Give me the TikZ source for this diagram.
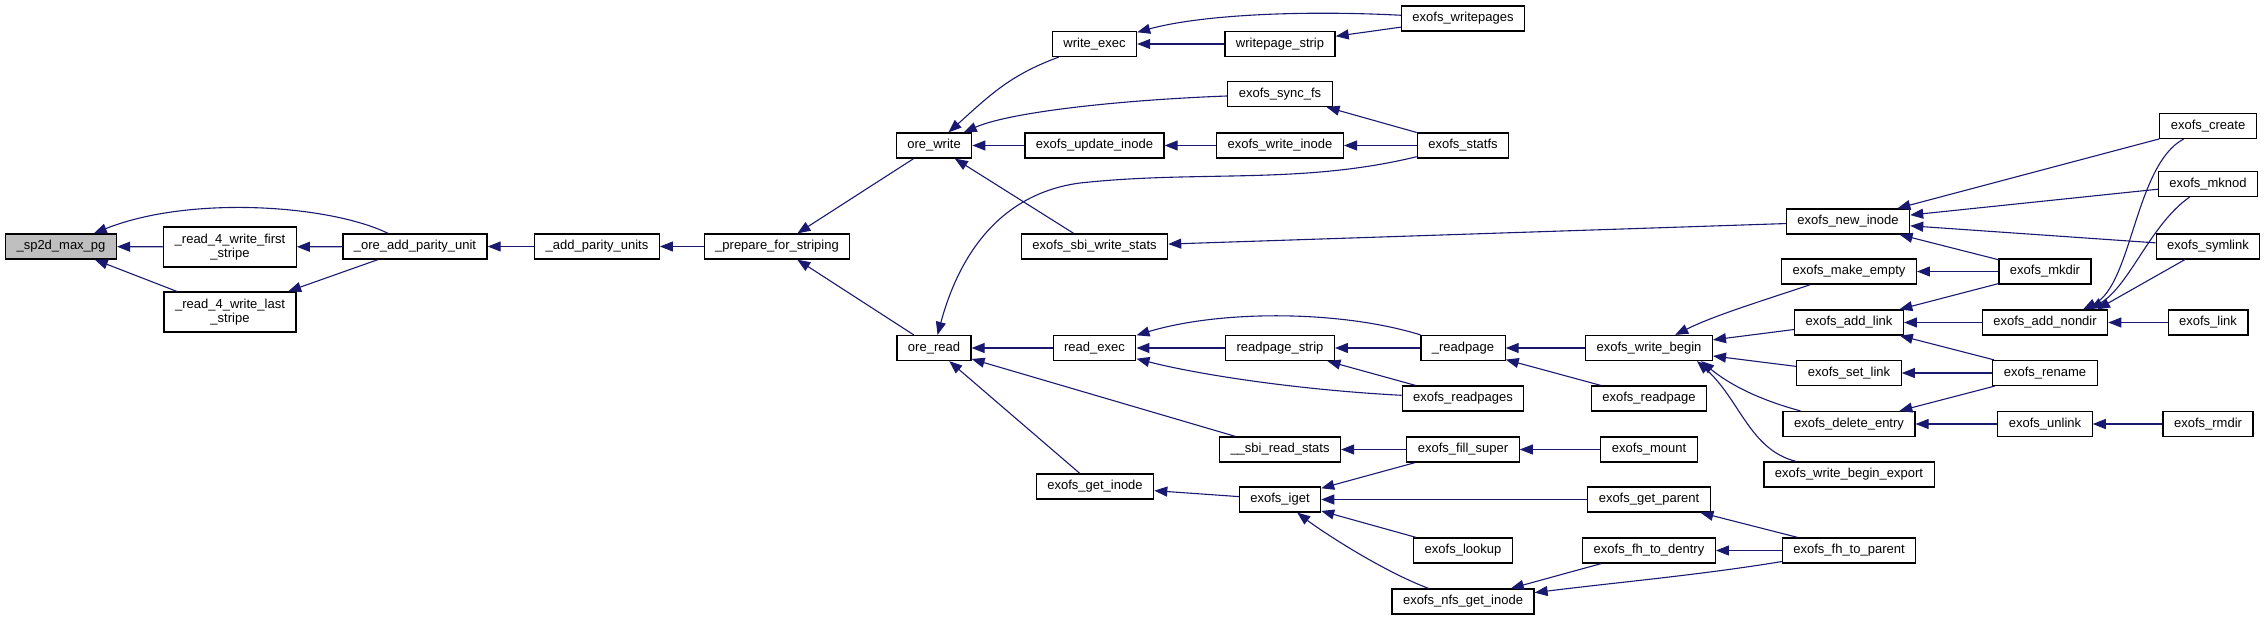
\documentclass[tikz,border=0pt]{standalone}
\usepackage{fontspec}
\setmainfont{Liberation Sans}
\usepackage{tikz}
\usetikzlibrary{arrows.meta}
\definecolor{edgeblue}{HTML}{191970}
\definecolor{rootgray}{HTML}{BFBFBF}

\begin{document}
\begin{tikzpicture}[x=1bp, y=-1bp,
    every node/.style={font=\fontsize{13bp}{14bp}\selectfont},
    func/.style={draw=black, line width=1.2bp, fill=white, rectangle,
      minimum height=25bp, inner xsep=11bp, inner ysep=0pt},
    functwo/.style={func, align=center, minimum height=40bp},
    calls/.style={draw=edgeblue, line width=1.1bp,
      -{Triangle[length=13bp,width=10bp]}}]
  \useasboundingbox (0,0) rectangle (2267,620);

  % columns, left to right
  \node[func, fill=rootgray] (sp2d) at (61,246.5) {\_sp2d\_max\_pg};
  \node[functwo] (rwfirst) at (230,247) {\_read\_4\_write\_first\\\_stripe};
  \node[functwo] (rwlast) at (230,312) {\_read\_4\_write\_last\\\_stripe};
  \node[func] (oreaddpu) at (415,246.5) {\_ore\_add\_parity\_unit};
  \node[func] (addpu) at (597,246.5) {\_add\_parity\_units};
  \node[func] (prepare) at (777,246.5) {\_prepare\_for\_striping};
  \node[func] (orewrite) at (934,145.5) {ore\_write};
  \node[func] (oreread) at (934,348) {ore\_read};

  \node[func] (writeexec) at (1094.5,44) {write\_exec};
  \node[func] (updateinode) at (1094.5,145.5) {exofs\_update\_inode};
  \node[func] (sbiwrite) at (1094.5,246.5) {exofs\_sbi\_write\_stats};
  \node[func] (readexec) at (1094.5,348) {read\_exec};
  \node[func] (getinode) at (1095,486.5) {exofs\_get\_inode};

  \node[func] (writepagestrip) at (1280,44) {writepage\_strip};
  \node[func] (syncfs) at (1280,94) {exofs\_sync\_fs};
  \node[func] (writeinode) at (1280,145.5) {exofs\_write\_inode};
  \node[func] (readpagestrip) at (1280,348) {readpage\_strip};
  \node[func] (sbiread) at (1280,449.5) {\_\_sbi\_read\_stats};
  \node[func] (iget) at (1280,499.5) {exofs\_iget};

  \node[func] (writepages) at (1463,18.5) {exofs\_writepages};
  \node[func] (statfs) at (1463,145.5) {exofs\_statfs};
  \node[func] (readpage) at (1463,348) {\_readpage};
  \node[func] (readpages) at (1463,398.5) {exofs\_readpages};
  \node[func] (fillsuper) at (1463,449.5) {exofs\_fill\_super};
  \node[func] (lookup) at (1463,550.5) {exofs\_lookup};
  \node[func] (nfsgetinode) at (1463,601.5) {exofs\_nfs\_get\_inode};

  \node[func] (writebegin) at (1649,348) {exofs\_write\_begin};
  \node[func] (exreadpage) at (1649,398.5) {exofs\_readpage};
  \node[func] (mount) at (1649,449.5) {exofs\_mount};
  \node[func] (getparent) at (1649,499.5) {exofs\_get\_parent};
  \node[func] (fhdentry) at (1649,550.5) {exofs\_fh\_to\_dentry};

  \node[func] (newinode) at (1848,221.5) {exofs\_new\_inode};
  \node[func] (makeempty) at (1849,271.5) {exofs\_make\_empty};
  \node[func] (addlink) at (1849,322.5) {exofs\_add\_link};
  \node[func] (setlink) at (1849,373) {exofs\_set\_link};
  \node[func] (deleteentry) at (1849,424) {exofs\_delete\_entry};
  \node[func] (wbexport) at (1849,474.5) {exofs\_write\_begin\_export};
  \node[func] (fhparent) at (1849,550.5) {exofs\_fh\_to\_parent};

  \node[func] (mkdir) at (2045,271.5) {exofs\_mkdir};
  \node[func] (addnondir) at (2045,322.5) {exofs\_add\_nondir};
  \node[func] (rename) at (2045,373) {exofs\_rename};
  \node[func] (unlink) at (2045,424) {exofs\_unlink};

  \node[func] (create) at (2208,126) {exofs\_create};
  \node[func] (mknod) at (2208,184) {exofs\_mknod};
  \node[func] (symlink) at (2208,246.5) {exofs\_symlink};
  \node[func] (link) at (2208,322.5) {exofs\_link};
  \node[func] (rmdir) at (2208,424) {exofs\_rmdir};

  % callers point at callees
  \draw[calls] (oreaddpu) .. controls (330,205) and (190,195) .. (sp2d);
  \draw[calls] (rwfirst) -- (sp2d);
  \draw[calls] (rwlast) -- (sp2d);
  \draw[calls] (oreaddpu) -- (rwfirst);
  \draw[calls] (oreaddpu) -- (rwlast);
  \draw[calls] (addpu) -- (oreaddpu);
  \draw[calls] (prepare) -- (addpu);
  \draw[calls] (orewrite) -- (prepare);
  \draw[calls] (oreread) -- (prepare);

  \draw[calls] (writeexec) .. controls (1010,75) and (990,95) .. (orewrite);
  \draw[calls] (syncfs) .. controls (1120,100) and (1010,112) .. (orewrite);
  \draw[calls] (updateinode) -- (orewrite);
  \draw[calls] (sbiwrite) -- (orewrite);
  \draw[calls] (writepages) .. controls (1300,10) and (1200,15) .. (writeexec);
  \draw[calls] (writepagestrip) -- (writeexec);
  \draw[calls] (writepages) -- (writepagestrip);
  \draw[calls] (statfs) -- (syncfs);
  \draw[calls] (writeinode) -- (updateinode);
  \draw[calls] (statfs) -- (writeinode);
  \draw[calls] (statfs) .. controls (1300,185) and (1200,170) .. (1080,183)
    .. controls (990,195) and (955,270) .. (oreread);
  \draw[calls] (newinode) -- (sbiwrite);

  \draw[calls] (readexec) -- (oreread);
  \draw[calls] (sbiread) -- (oreread);
  \draw[calls] (getinode) -- (oreread);
  \draw[calls] (readpage) .. controls (1340,310) and (1220,310) .. (readexec);
  \draw[calls] (readpagestrip) -- (readexec);
  \draw[calls] (readpages) .. controls (1300,390) and (1200,375) .. (readexec);
  \draw[calls] (readpage) -- (readpagestrip);
  \draw[calls] (readpages) -- (readpagestrip);
  \draw[calls] (writebegin) -- (readpage);
  \draw[calls] (exreadpage) -- (readpage);

  \draw[calls] (makeempty) .. controls (1765,300) and (1715,315) .. (writebegin);
  \draw[calls] (addlink) -- (writebegin);
  \draw[calls] (setlink) -- (writebegin);
  \draw[calls] (deleteentry) .. controls (1760,400) and (1730,385)
    .. ([xshift=-12bp]writebegin.south east);
  \draw[calls] (wbexport) .. controls (1750,450) and (1740,400)
    .. ([xshift=-16bp]writebegin.south east);

  \draw[calls] (fillsuper) -- (sbiread);
  \draw[calls] (mount) -- (fillsuper);
  \draw[calls] (iget) -- (getinode);
  \draw[calls] (fillsuper) -- (iget);
  \draw[calls] (getparent) -- (iget);
  \draw[calls] (lookup) -- (iget);
  \draw[calls] (nfsgetinode) .. controls (1380,570) and (1320,530) .. (iget);
  \draw[calls] (fhdentry) -- (nfsgetinode);
  \draw[calls] (fhparent) .. controls (1700,575) and (1620,582) .. (nfsgetinode);
  \draw[calls] (fhparent) -- (getparent);
  \draw[calls] (fhparent) -- (fhdentry);

  \draw[calls] (create) -- (newinode);
  \draw[calls] (mknod) -- (newinode);
  \draw[calls] (symlink) -- (newinode);
  \draw[calls] (mkdir) -- (newinode);
  \draw[calls] (mkdir) -- (makeempty);
  \draw[calls] (mkdir) -- (addlink);
  \draw[calls] (addnondir) -- (addlink);
  \draw[calls] (rename) -- (addlink);
  \draw[calls] (create) .. controls (2135,165) and (2132,285)
    .. ([xshift=38bp]addnondir.north);
  \draw[calls] (mknod) .. controls (2150,225) and (2130,285)
    .. ([xshift=45bp]addnondir.north);
  \draw[calls] (symlink) -- ([xshift=52bp]addnondir.north);
  \draw[calls] (link) -- (addnondir);
  \draw[calls] (rename) -- (setlink);
  \draw[calls] (rename) -- (deleteentry);
  \draw[calls] (unlink) -- (deleteentry);
  \draw[calls] (rmdir) -- (unlink);
\end{tikzpicture}
\end{document}
